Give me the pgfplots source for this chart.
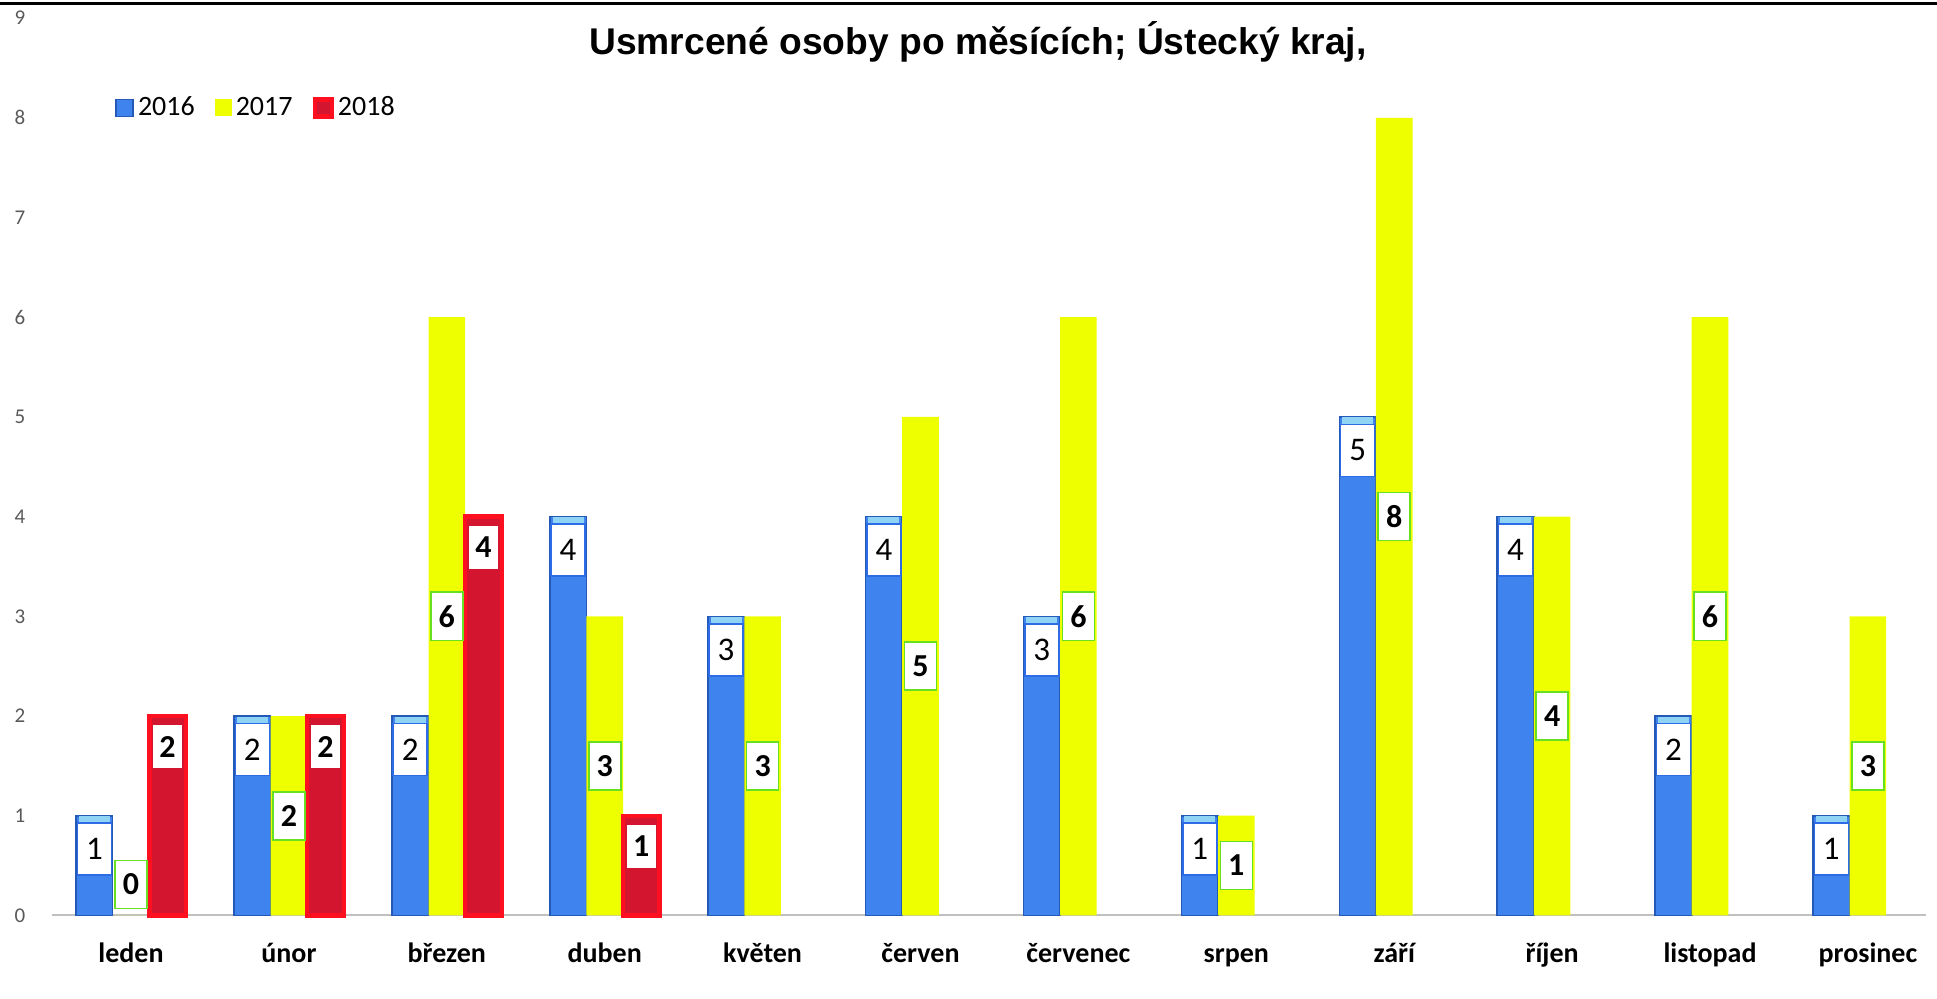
\documentclass[border=0pt]{standalone}
\usepackage{fontspec}
\setmainfont{Carlito}
\newfontfamily\titlefont{Liberation Sans}
\usepackage{pgfplots}
\pgfplotsset{compat=1.18}
\definecolor{tickgray}{HTML}{595959}
\definecolor{baseg}{HTML}{C0C0C0}
\definecolor{bfill}{HTML}{3F84EE}
\definecolor{bedge}{HTML}{2559B8}
\definecolor{bcap}{HTML}{8FD3F5}
\definecolor{yfill}{HTML}{EEFF00}
\definecolor{rfill}{HTML}{D41530}
\definecolor{redge}{HTML}{FF1020}
\definecolor{labblue}{HTML}{2E6BE6}
\definecolor{labgreen}{HTML}{66E020}
\begin{document}
\begin{tikzpicture}
\useasboundingbox (-65.5pt,-41.3pt) rectangle (903pt,457.7pt);
\begin{axis}[
  at={(0pt,0pt)}, anchor=origin,
  x=78.95pt, y=49.85pt,
  xmin=-0.5, xmax=11.37, ymin=0, ymax=9,
  clip=false,
  ybar=0pt, bar width=18.3pt,
  axis lines*=left,
  y axis line style={draw=none},
  x axis line style={draw=baseg, line width=1pt},
  major tick length=0pt,
  xtick={0,...,11},
  xticklabels={leden,únor,březen,duben,květen,červen,červenec,srpen,září,říjen,listopad,prosinec},
  xticklabel style={anchor=base, yshift=-23.3pt, font=\bfseries\fontsize{14}{14}\selectfont, text=black},
  ytick={0,...,9},
  yticklabel style={anchor=center, xshift=-16pt, font=\fontsize{10.5}{10.5}\selectfont, text=tickgray},
  /pgf/number format/assume math mode=true,
  legend columns=-1,
  legend cell align=left,
  legend image code/.code={\path[#1] (0pt,-4.25pt) rectangle (8.5pt,4.25pt);},
  legend style={draw=none, fill=none, at={(0.0336,0.900)}, anchor=west, inner sep=0pt,
    font=\fontsize{14}{14}\selectfont,
    nodes={inner sep=2pt},
    /tikz/every even column/.append style={column sep=8pt}},
]
\addplot[fill=bfill, draw=bedge, line width=0.8pt,
  nodes near coords,
  every node near coord/.append style={anchor=center, yshift=-16.75pt, fill=white, draw=labblue, line width=0.8pt,
    minimum width=17pt, minimum height=26pt, inner sep=0pt, font=\fontsize{16.5}{16.5}\selectfont, text=black,
    label={[fill=bcap, draw=none, inner sep=0pt, outer sep=0pt, minimum width=15.5pt, minimum height=3.1pt, label distance=0pt]above:{}}}]
  coordinates {(0,1) (1,2) (2,2) (3,4) (4,3) (5,4) (6,3) (7,1) (8,5) (9,4) (10,2) (11,1)};
\addlegendentry{2016}
\addplot[fill=yfill, draw=none,
  visualization depends on={rawy \as \rawy},
  nodes near coords,
  every node near coord/.append style={anchor=center, yshift={max(-24.925*\rawy,-49.85*\rawy+15.5)}, fill=white, draw=labgreen, line width=0.8pt,
    minimum width=16pt, minimum height=24pt, inner sep=0pt, font=\bfseries\fontsize{16}{16}\selectfont, text=black}]
  coordinates {(0,0) (1,2) (2,6) (3,3) (4,3) (5,5) (6,6) (7,1) (8,8) (9,4) (10,6) (11,3)};
\addlegendentry{2017}
\addplot[fill=rfill, draw=redge, line width=2.2pt,
  nodes near coords,
  every node near coord/.append style={anchor=center, yshift=-15.3pt, fill=white, draw=none,
    minimum width=14.5pt, minimum height=21.5pt, inner sep=0pt, line width=0pt, font=\bfseries\fontsize{16}{16}\selectfont, text=black}]
  coordinates {(0,2) (1,2) (2,4) (3,1)};
\addlegendentry{2018}
\end{axis}
\draw[line width=1.5pt] (-65.5pt,456pt) -- (903pt,456pt);
\node[anchor=base, font=\titlefont\bfseries\fontsize{18.6}{18.6}\selectfont] at (423.5pt,430.2pt) {Usmrcené osoby po měsících; Ústecký kraj,};
\end{tikzpicture}
\end{document}
